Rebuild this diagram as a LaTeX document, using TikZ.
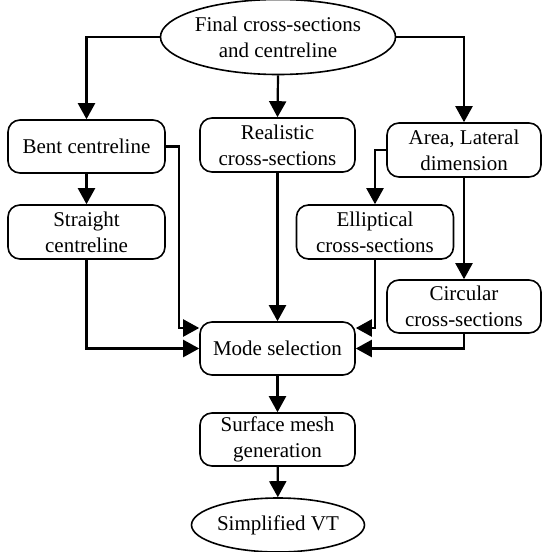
\documentclass[tikz,border=0pt]{standalone}
\usepackage{fontspec}
\setmainfont{Liberation Serif}
\usetikzlibrary{arrows.meta,shapes.geometric}
\begin{document}
\begin{tikzpicture}[x=1pt,y=-1pt,
  box/.style={draw,line width=1.6pt,rounded corners=12pt,align=center,inner sep=0pt,
    font=\rmfamily\fontsize{21}{26}\selectfont},
  oval/.style={draw,ellipse,line width=1.6pt,align=center,inner sep=0pt,
    font=\rmfamily\fontsize{21}{26}\selectfont},
  arr/.style={line width=2.2pt,-{Triangle[length=16pt,width=17pt]}}]
\useasboundingbox (0,0) rectangle (544,552);
\node[oval,minimum width=222pt,minimum height=75pt] (top) at (278,37) {Final cross-sections\\and centreline};
\node[box,minimum width=157pt,minimum height=53pt] (bent) at (86.5,146.5) {Bent centreline};
\node[box,minimum width=155pt,minimum height=54pt] (real) at (277.5,145) {Realistic\\cross-sections};
\node[box,minimum width=154pt,minimum height=54pt] (area) at (464,150) {Area, Lateral\\dimension};
\node[box,minimum width=157pt,minimum height=54pt] (str) at (86.5,232) {Straight\\centreline};
\node[box,minimum width=157pt,minimum height=54pt] (ell) at (375,232) {Elliptical\\cross-sections};
\node[box,minimum width=154pt,minimum height=53pt] (circ) at (464,306.5) {Circular\\cross-sections};
\node[box,minimum width=155pt,minimum height=53pt] (mode) at (277.5,348.5) {Mode selection};
\node[box,minimum width=155pt,minimum height=53pt] (surf) at (277.5,439.5) {Surface mesh\\generation};
\node[oval,minimum width=173pt,minimum height=54pt] (simp) at (278,525) {Simplified VT};
\coordinate (mwu) at ([yshift=20.5pt]mode.west);
\coordinate (meu) at ([yshift=20.5pt]mode.east);
\draw[arr] (top.west) -| (bent.north);
\draw[arr] (top.east) -| (area.north);
\draw[arr] (top.south) -- (real.north);
\draw[arr] (bent) -- (str);
\draw[arr] (area.west) -| (ell.north);
\draw[arr] (area.south) -- (circ.north);
\draw[arr] (bent.east) -| ([xshift=-20pt]mwu) -- (mwu);
\draw[arr] (str.south) |- (mode.west);
\draw[arr] (real.south) -- (mode.north);
\draw[arr] (ell.south) |- (meu);
\draw[arr] (circ.south) |- (mode.east);
\draw[arr] (mode) -- (surf);
\draw[arr] (surf) -- (simp);
\end{tikzpicture}
\end{document}
